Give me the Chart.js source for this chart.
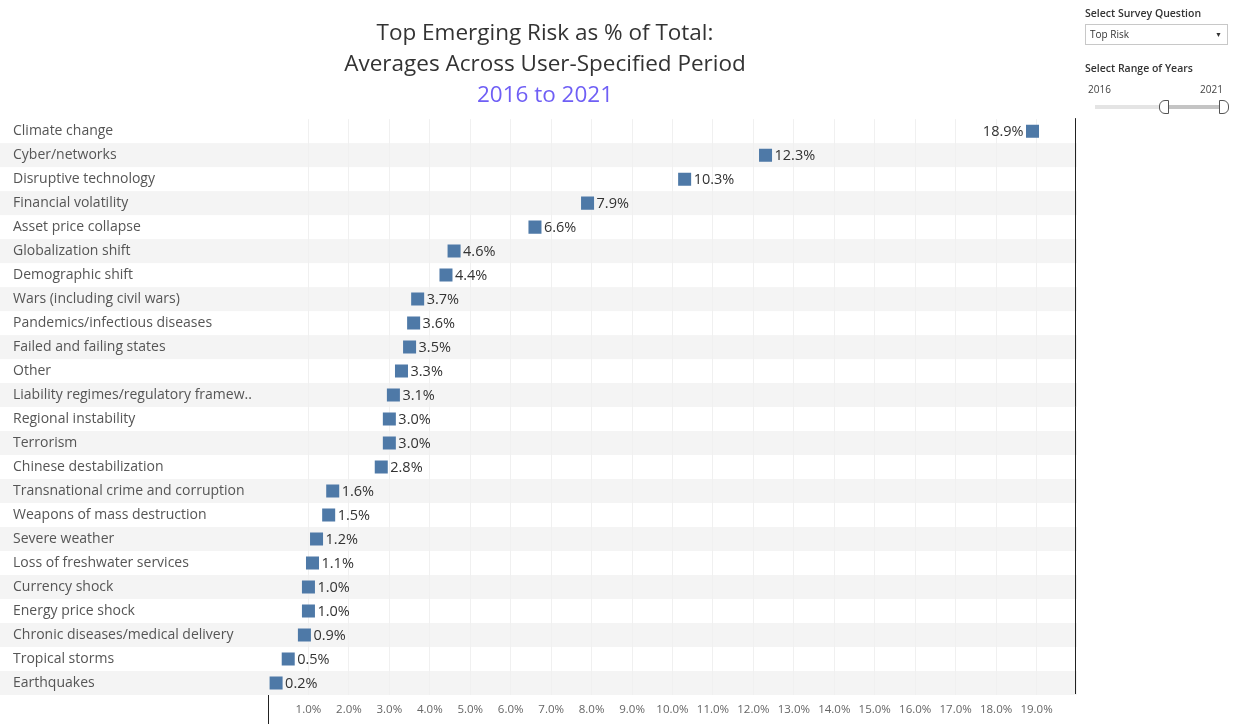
<!DOCTYPE html>
<html>
<head>
<meta charset="utf-8">
<script src="https://cdn.jsdelivr.net/npm/chart.js@4.4.0/dist/chart.umd.min.js"></script>
<style>
	body { margin: 0; background: #fff; font-family: "Open Sans", sans-serif; }
	#wrap { position: relative; width: 1243px; height: 724px; }
	#panel { position: absolute; left: 1085px; top: 0; width: 150px; color: #333; }
	.ctl-title { font-size: 10.5px; font-weight: 600; position: absolute; left: 0; }
	.dropdown { position: absolute; left: 0; top: 24px; width: 141px; height: 19px; border: 1px solid #c8c8c8; font-size: 10px; line-height: 19px; box-sizing: content-box; }
	.dropdown span { position: absolute; left: 4px; }
	.dropdown i { position: absolute; right: 5px; font-style: normal; font-size: 7px; }
	.yr { position: absolute; top: 82px; font-size: 10px; color: #444; }
	.track { position: absolute; top: 105px; height: 4px; }
	.handle { position: absolute; top: 100px; width: 8px; height: 12px; border: 1px solid #555; border-radius: 0 6px 6px 0; background: #fff; }
</style>
</head>
<body>
<div id="wrap">
	<canvas id="riskChart" width="1243" height="724"></canvas>
	<div id="panel">
		<div class="ctl-title" style="top:6px">Select Survey Question</div>
		<div class="dropdown"><span>Top Risk</span><i>&#9660;</i></div>
		<div class="ctl-title" style="top:61px">Select Range of Years</div>
		<div class="yr" style="left:3px">2016</div>
		<div class="yr" style="left:115px">2021</div>
		<div class="track" style="left:10px; width:70px; background:#e4e4e4"></div>
		<div class="track" style="left:78px; width:60px; background:#c4c4c4"></div>
		<div class="handle" style="left:74px; border-radius:6px 0 0 6px"></div>
		<div class="handle" style="left:134px"></div>
	</div>
</div>
<script>
var risks = [
	'Climate change', 'Cyber/networks', 'Disruptive technology', 'Financial volatility',
	'Asset price collapse', 'Globalization shift', 'Demographic shift', 'Wars (including civil wars)',
	'Pandemics/infectious diseases', 'Failed and failing states', 'Other', 'Liability regimes/regulatory framew..',
	'Regional instability', 'Terrorism', 'Chinese destabilization', 'Transnational crime and corruption',
	'Weapons of mass destruction', 'Severe weather', 'Loss of freshwater services', 'Currency shock',
	'Energy price shock', 'Chronic diseases/medical delivery', 'Tropical storms', 'Earthquakes'
];
var pctOfTotal = [
	18.9, 12.3, 10.3, 7.9, 6.6, 4.6, 4.4, 3.7, 3.6, 3.5, 3.3, 3.1,
	3.0, 3.0, 2.8, 1.6, 1.5, 1.2, 1.1, 1.0, 1.0, 0.9, 0.5, 0.2
];
var tickValues = [1, 2, 3, 4, 5, 6, 7, 8, 9, 10, 11, 12, 13, 14, 15, 16, 17, 18, 19];

var FONT = '"Open Sans", sans-serif';

// alternating row bands + frame lines
var rowBands = {
	id: 'rowBands',
	beforeDraw: function(chart) {
		var c = chart.ctx, y = chart.scales.y, area = chart.chartArea;
		var h = (area.bottom - area.top) / risks.length;
		c.save();
		c.fillStyle = '#f4f4f4';
		risks.forEach(function(r, i) {
			if (i % 2 == 1) {
				var cy = y.getPixelForValue(i);
				c.fillRect(0, cy - h / 2, area.right, h);
			}
		});
		c.restore();
	},
	afterDraw: function(chart) {
		var c = chart.ctx, area = chart.chartArea;
		c.save();
		c.strokeStyle = '#222';
		c.lineWidth = 1;
		c.beginPath();
		c.moveTo(area.right - 1.5, area.top - 1);
		c.lineTo(area.right - 1.5, area.bottom - 1);
		c.moveTo(area.left + 0.5, area.bottom);
		c.lineTo(area.left + 0.5, 724);
		c.stroke();
		c.restore();
	}
};

// value labels next to the squares
var valueLabels = {
	id: 'valueLabels',
	afterDatasetsDraw: function(chart) {
		var c = chart.ctx, area = chart.chartArea;
		var meta = chart.getDatasetMeta(0);
		c.save();
		c.font = '14.5px ' + FONT;
		c.fillStyle = '#333';
		c.textBaseline = 'middle';
		meta.data.forEach(function(pt, i) {
			var txt = pctOfTotal[i].toFixed(1) + '%';
			var w = c.measureText(txt).width;
			if (pt.x + 11 + w > area.right - 4) {
				c.textAlign = 'right';
				c.fillText(txt, pt.x - 9, pt.y + 1);
			} else {
				c.textAlign = 'left';
				c.fillText(txt, pt.x + 9, pt.y + 1);
			}
		});
		c.restore();
	}
};

var ctx = document.getElementById('riskChart').getContext('2d');
var riskChart = new Chart(ctx, {
	type: 'scatter',
	data: {
		datasets: [{
			label: 'Top Risk',
			data: pctOfTotal.map(function(v, i) { return { x: v, y: risks[i] }; }),
			backgroundColor: '#4e79a7',
			borderColor: '#4e79a7',
			pointStyle: 'rect',
			pointRadius: 9.2,
			pointHoverRadius: 9.2,
			borderWidth: 0
		}]
	},
	options: {
		responsive: false,
		animation: false,
		layout: { padding: { left: 13, right: 166, top: 0, bottom: 0 } },
		plugins: {
			legend: { display: false },
			tooltip: { enabled: false },
			title: {
				display: true,
				text: ['Top Emerging Risk as % of Total:', 'Averages Across User-Specified Period'],
				color: '#333',
				font: { family: FONT, size: 22.5, weight: 'normal', lineHeight: 1.38 },
				padding: { top: 18, bottom: 0 }
			},
			subtitle: {
				display: true,
				text: '2016 to 2021',
				color: '#6f5ff5',
				font: { family: FONT, size: 22.5, weight: 'normal', lineHeight: 1.38 },
				padding: { top: 0, bottom: 8 }
			}
		},
		scales: {
			x: {
				type: 'linear',
				min: 0,
				max: 20,
				afterBuildTicks: function(scale) {
					scale.ticks = tickValues.map(function(v) { return { value: v }; });
				},
				afterFit: function(scale) { scale.height = 29; },
				ticks: {
					callback: function(v) { return Number(v).toFixed(1) + '%'; },
					font: { family: FONT, size: 11.5 },
					color: '#666',
					padding: 8,
					maxRotation: 0,
					autoSkip: false
				},
				grid: { color: '#f0f0f0', drawTicks: false },
				border: { display: false }
			},
			y: {
				type: 'category',
				labels: risks,
				offset: true,
				afterFit: function(scale) { scale.width = 255; },
				ticks: {
					font: { family: FONT, size: 14 },
					color: '#555',
					crossAlign: 'far',
					autoSkip: false
				},
				grid: { display: false },
				border: { display: false }
			}
		}
	},
	plugins: [rowBands, valueLabels]
});
</script>
</body>
</html>
